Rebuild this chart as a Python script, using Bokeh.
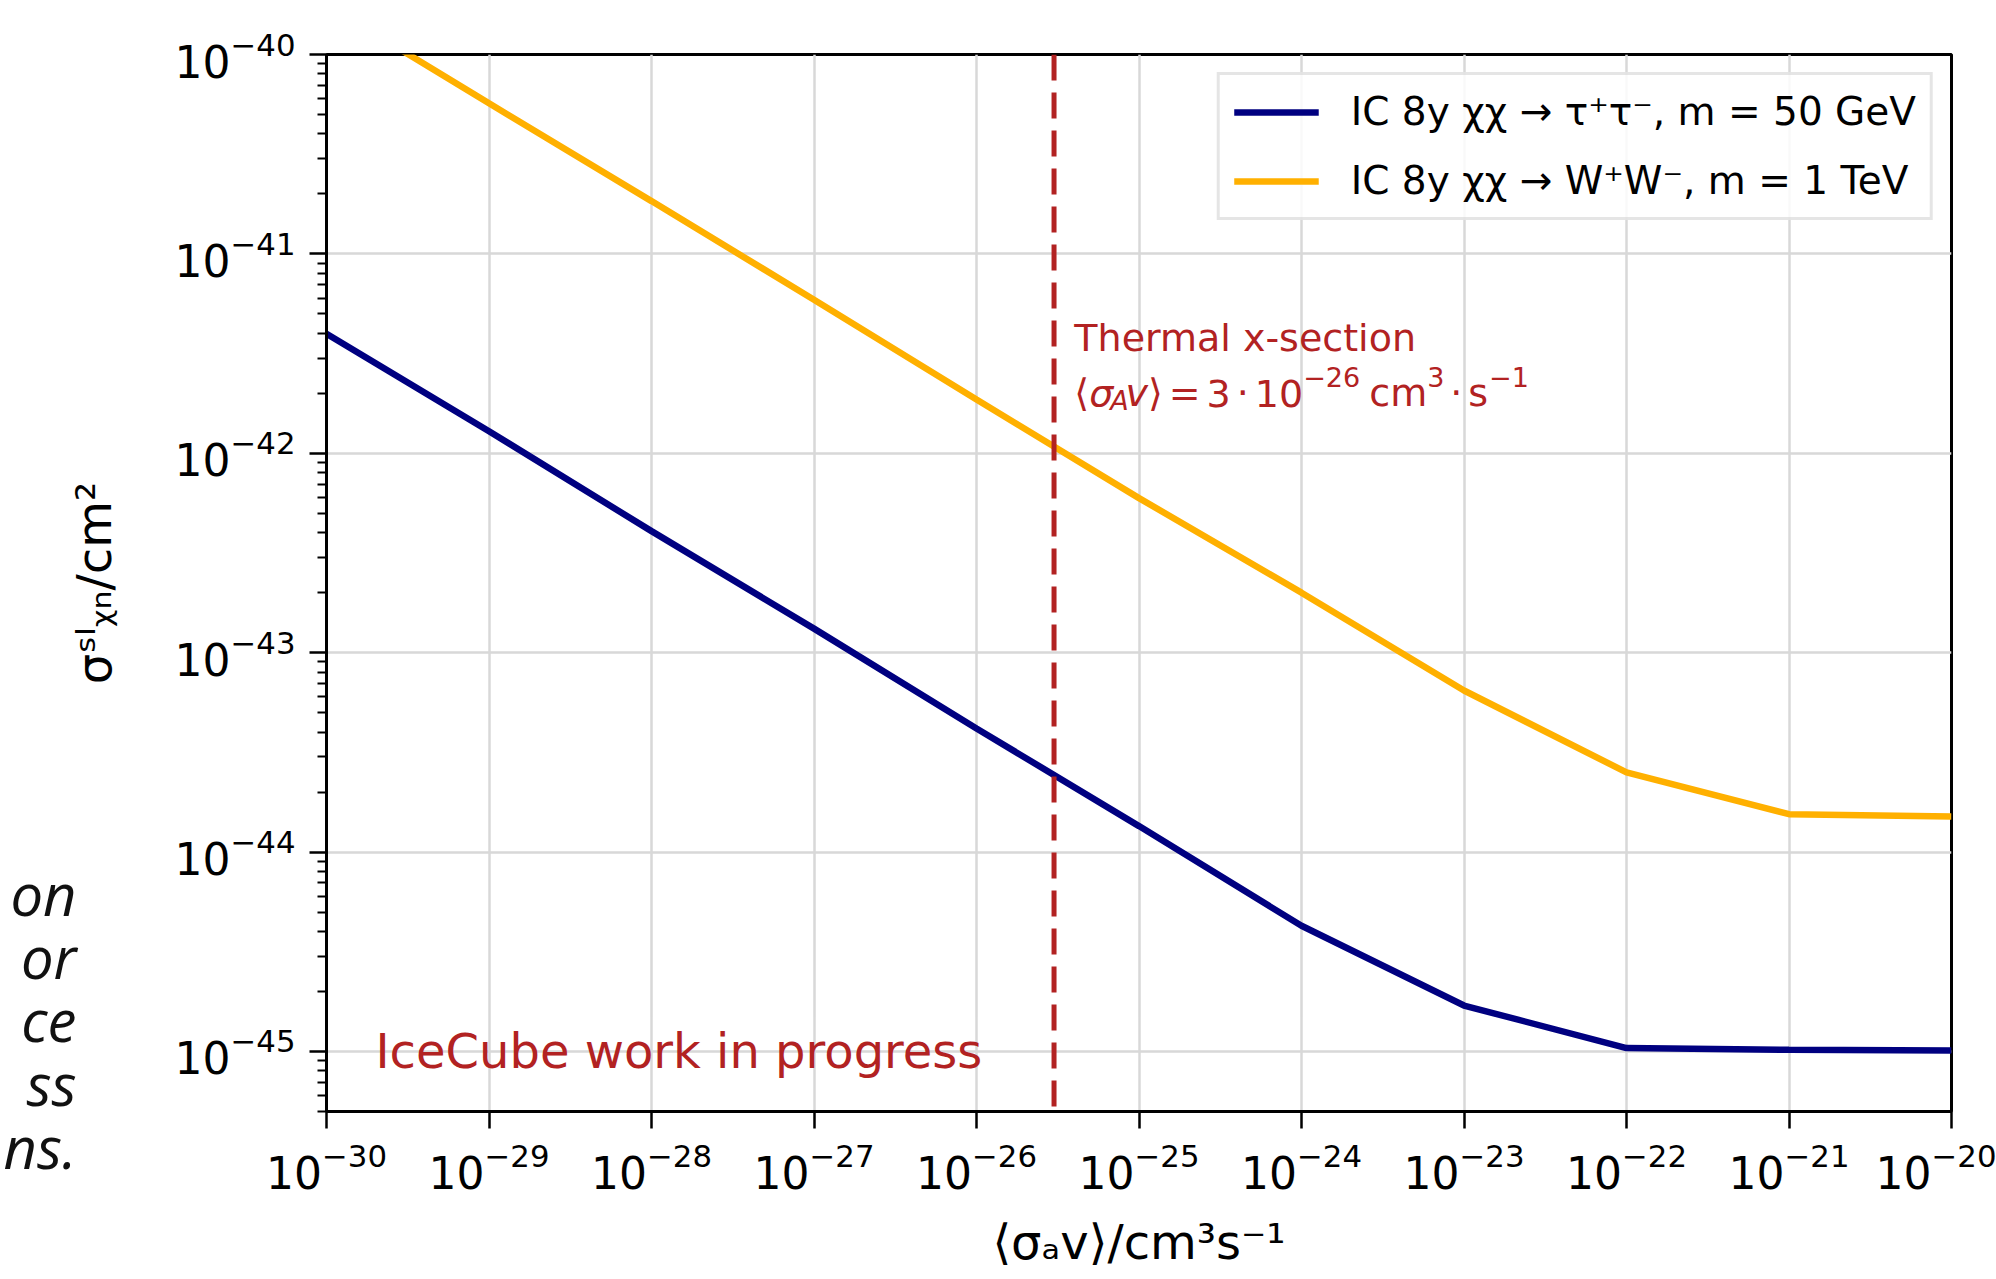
import math
from bokeh.plotting import figure
from bokeh.models import (FixedTicker, LogTickFormatter, Span, Label, Legend,
                          LegendItem, ColumnDataSource, LinearAxis, Range1d)
from bokeh.embed import file_html
from bokeh.resources import INLINE

# ---------------- data ----------------
sigma_v = [1e-30, 1e-29, 1e-28, 1e-27, 1e-26, 1e-25, 1e-24, 1e-23, 1e-22, 1e-21, 1e-20]
tau_50GeV = [3.98e-42, 1.29e-42, 4.07e-43, 1.32e-43, 4.17e-44, 1.35e-44,
             4.27e-45, 1.70e-45, 1.04e-45, 1.02e-45, 1.01e-45]
ww_1TeV = [1.78e-40, 5.69e-41, 1.84e-41, 5.89e-42, 1.86e-42, 5.96e-43,
           2.00e-43, 6.46e-44, 2.51e-44, 1.55e-44, 1.51e-44]
thermal_xsec = 3e-26

x_major = [1e-30, 1e-29, 1e-28, 1e-27, 1e-26, 1e-25, 1e-24, 1e-23, 1e-22, 1e-21, 1e-20]
y_major = [1e-45, 1e-44, 1e-43, 1e-42, 1e-41, 1e-40]
y_minor = [m * 10.0 ** e for e in range(-46, -40) for m in range(2, 10)
           if 5e-46 <= m * 10.0 ** e <= 1e-40]

legend_labels = ["IC 8y χχ → τ⁺τ⁻, m = 50 GeV", "IC 8y χχ → W⁺W⁻, m = 1 TeV"]
x_label = "⟨σₐv⟩/cm³s⁻¹"
y_label = "σˢᴵᵪₙ/cm²"
side_fragments = ["on", "or", "ce", "ss", "ns."]

# ---------------- layout constants (px) ----------------
W_PAGE, H_PAGE = 1996, 1279
FL, FR, FT, FB = 324, 1951, 54, 1111
RED = "firebrick"
NAVY = "#000080"
ORANGE = "#ffb000"
FONT = "DejaVu Sans"

p = figure(width=W_PAGE, height=H_PAGE, x_axis_type="log", y_axis_type="log",
           x_range=(1e-30, 1e-20), y_range=(5e-46, 1e-40),
           output_backend="svg", toolbar_location=None,
           min_border_left=FL, min_border_right=W_PAGE - FR,
           min_border_top=FT, min_border_bottom=H_PAGE - FB)
p.background_fill_color = "white"
p.border_fill_color = "white"
p.outline_line_color = "black"
p.outline_line_width = 3
p.outline_line_alpha = 1.0

xax = p.xaxis[0]
yax = p.yaxis[0]
xax.ticker = FixedTicker(ticks=x_major, minor_ticks=[])
yax.ticker = FixedTicker(ticks=y_major, minor_ticks=y_minor)
for ax in (xax, yax):
    ax.formatter = LogTickFormatter()
    ax.axis_line_color = "black"
    ax.axis_line_width = 3
    ax.major_tick_line_color = "black"
    ax.major_tick_line_width = 2.5
    ax.major_tick_out = 17
    ax.major_tick_in = 0
    ax.minor_tick_line_color = "black"
    ax.minor_tick_line_width = 2
    ax.minor_tick_out = 9
    ax.minor_tick_in = 0
    ax.major_label_text_font = FONT
    ax.major_label_text_font_size = "44px"
    ax.major_label_text_color = "black"
    ax.major_label_standoff = 14
    ax.axis_label_text_font = FONT
    ax.axis_label_text_font_size = "48px"
    ax.axis_label_text_font_style = "normal"
    ax.axis_label_text_color = "black"
xax.minor_tick_line_color = None
xax.axis_label = x_label
xax.axis_label_standoff = 22
yax.axis_label = y_label
yax.axis_label_standoff = 50

for g in (p.xgrid, p.ygrid):
    g.grid_line_color = "#d8d8d8"
    g.grid_line_width = 2.5

src = ColumnDataSource(dict(x=sigma_v, tau=tau_50GeV, ww=ww_1TeV))
r_tau = p.line("x", "tau", source=src, line_color=NAVY, line_width=6.5)
r_ww = p.line("x", "ww", source=src, line_color=ORANGE, line_width=6.5)

p.add_layout(Span(location=thermal_xsec, dimension="height", line_color=RED,
                  line_width=5, line_dash="26 12"))

legend = Legend(items=[LegendItem(label=legend_labels[0], renderers=[r_tau]),
                       LegendItem(label=legend_labels[1], renderers=[r_ww])],
                location="top_right", margin=18, padding=14, spacing=24,
                glyph_width=85, glyph_height=44, label_height=44, label_standoff=32,
                label_text_font=FONT, label_text_font_size="39px",
                label_text_color="black",
                border_line_color="#cccccc", border_line_width=3,
                background_fill_color="white", background_fill_alpha=0.85)
p.add_layout(legend)

# ---------------- rich text helper (inside the frame) ----------------
EM = {' ': 0.318, '/': 0.337, 'A': 0.684, 'C': 0.698, 'G': 0.775, 'I': 0.295,
      'N': 0.748, 'S': 0.635, 'T': 0.611, 'V': 0.684, 'W': 0.989, 'a': 0.613,
      'c': 0.550, 'e': 0.615, 'm': 0.974, 's': 0.521, 'v': 0.592, 'y': 0.592,
      '=': 0.838, '−': 0.838, '+': 0.838, ',': 0.318, '·': 0.318, 'σ': 0.634,
      'χ': 0.58, 'τ': 0.58, '⟨': 0.39, '⟩': 0.39}
for d in "0123456789":
    EM[d] = 0.636


def width(s, size):
    return sum(EM.get(ch, 0.6) for ch in s) * size


def rich(pieces, x, y, base, color="black"):
    """pieces: (text, scale, rise_em, italic, extra_px); laid out left to right."""
    pos = 0.0
    for text, sc, rise, it, extra in pieces:
        p.add_layout(Label(x=x, y=y, x_offset=pos, y_offset=rise * base,
                           text=text, text_font=FONT,
                           text_font_size=f"{round(base * sc)}px",
                           text_font_style="italic" if it else "normal",
                           text_color=color, text_align="left",
                           text_baseline="alphabetic"))
        pos += width(text, base * sc) + extra


# thermal cross-section annotation
p.add_layout(Label(x=4e-26, y=2e-42, y_offset=55, text="Thermal x-section",
                   text_font=FONT, text_font_size="38px", text_color=RED,
                   text_align="left", text_baseline="alphabetic"))
therm = [("⟨", 1, 0, False, 0), ("σ", 1, 0, True, -3), ("A", 0.7, -0.2, True, -3),
         ("v", 1, 0, True, 0), ("⟩", 1, 0, False, 6), ("=", 1, 0, False, 6),
         ("3", 1, 0, False, 6), ("·", 1, 0, False, 6), ("10", 1, 0, False, 0),
         ("−26", 0.7, 0.42, False, 10), ("cm", 1, 0, False, 0),
         ("3", 0.7, 0.42, False, 6), ("·", 1, 0, False, 6), ("s", 1, 0, False, 1),
         ("−1", 0.7, 0.42, False, 0)]
rich(therm, 4e-26, 2e-42, 38, color=RED)

# watermark
p.add_layout(Label(x=2e-30, y=1e-45, text="IceCube work in progress",
                   text_font=FONT, text_font_size="48px", text_color=RED,
                   text_align="left", text_baseline="alphabetic"))

# cropped slide text at the far left: an extra, bare axis whose only tick label
# carries the text lines (mapped in canvas pixels, top = FT, bottom = FB)
p.extra_y_ranges = {"frag": Range1d(start=FB, end=FT)}
frag_tick = 855
frag_axis = LinearAxis(y_range_name="frag",
                       ticker=FixedTicker(ticks=[frag_tick], minor_ticks=[]),
                       major_label_overrides={frag_tick: "\n".join(side_fragments)},
                       axis_line_color=None, major_tick_line_color=None,
                       minor_tick_line_color=None, major_tick_out=0, major_tick_in=0,
                       minor_tick_out=0, minor_tick_in=0,
                       major_label_standoff=-14,
                       major_label_text_font="Open Sans",
                       major_label_text_font_style="italic",
                       major_label_text_font_size="58px",
                       major_label_text_line_height=0.8,
                       major_label_text_color="#111111")
p.add_layout(frag_axis, "left")

open("out.html", "w").write(file_html(p, INLINE))
